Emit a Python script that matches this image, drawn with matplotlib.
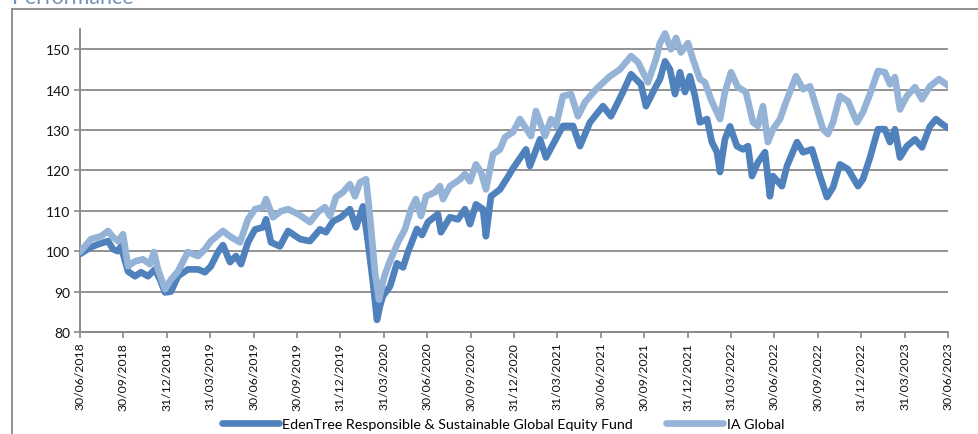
import matplotlib
matplotlib.use("Agg")
import matplotlib.pyplot as plt
from matplotlib.lines import Line2D

# ---------------- data ----------------
tick_labels = ["30/06/2018", "30/09/2018", "31/12/2018", "31/03/2019", "30/06/2019",
               "30/09/2019", "31/12/2019", "31/03/2020", "30/06/2020", "30/09/2020",
               "31/12/2020", "31/03/2021", "30/06/2021", "30/09/2021", "31/12/2021",
               "31/03/2022", "30/06/2022", "30/09/2022", "31/12/2022", "31/03/2023",
               "30/06/2023"]
tick_months = [0, 3, 6, 9, 12, 15, 18, 21, 24, 27, 30, 33, 36, 39, 42, 45, 48, 51, 54, 57, 60]

# months since 30/06/2018
edentree_months = [0.00, 0.76, 1.24, 1.94, 2.28, 2.63, 2.83, 3.32, 3.80, 4.22, 4.70, 5.18, 5.53,
                   5.88, 6.29, 6.77, 7.46, 8.16, 8.64, 9.05, 9.54, 9.88, 10.37, 10.78, 11.13,
                   11.61, 12.10, 12.65, 12.86, 13.20, 13.82, 14.38, 15.21, 15.90, 16.59, 17.00,
                   17.49, 18.04, 18.66, 19.08, 19.56, 19.91, 20.25, 20.53, 20.74, 20.94, 21.43,
                   21.91, 22.33, 22.67, 23.29, 23.64, 24.05, 24.74, 24.95, 25.57, 26.13, 26.61,
                   26.96, 27.37, 27.86, 28.06, 28.41, 29.03, 29.58, 29.93, 30.83, 31.10, 31.80,
                   32.21, 33.38, 34.08, 34.56, 35.25, 36.15, 36.70, 37.53, 38.09, 38.78, 39.12,
                   39.81, 40.09, 40.44, 40.78, 41.13, 41.47, 41.82, 42.16, 42.51, 42.85, 43.34,
                   43.68, 44.03, 44.24, 44.58, 44.93, 45.41, 45.83, 46.17, 46.45, 46.86, 47.35,
                   47.69, 47.90, 48.52, 48.87, 49.56, 49.98, 50.60, 51.15, 51.63, 52.05, 52.53,
                   53.09, 53.78, 54.12, 54.61, 55.16, 55.64, 55.99, 56.33, 56.68, 57.16, 57.72,
                   58.20, 58.75, 59.17, 59.58, 60.00]
edentree_values = [99.3, 101.0, 101.7, 102.5, 100.5, 100.0, 101.2, 95.0, 93.8, 94.8, 93.8, 95.5, 93.0,
                   89.8, 90.0, 93.8, 95.5, 95.5, 94.8, 96.3, 99.8, 101.5, 97.3, 98.8, 96.8,
                   102.2, 105.4, 105.9, 107.9, 102.2, 101.2, 105.0, 103.0, 102.5, 105.4, 104.7,
                   107.4, 108.4, 110.4, 105.9, 111.1, 102.2, 92.3, 83.0, 86.5, 88.9, 91.3,
                   97.0, 96.0, 99.8, 105.5, 104.0, 107.2, 109.2, 104.7, 108.4, 107.9, 110.4,
                   106.7, 111.6, 110.4, 103.7, 113.6, 115.3, 118.4, 120.5, 125.2, 121.1, 127.7,
                   123.2, 131.0, 131.0, 126.0, 131.9, 135.9, 133.4, 139.4, 143.8, 141.3, 135.9,
                   140.8, 142.6, 147.0, 145.0, 138.9, 144.3, 139.4, 143.3, 138.4, 131.9, 132.7,
                   127.0, 124.5, 119.6, 127.7, 130.9, 126.0, 125.2, 126.0, 118.6, 122.0, 124.5,
                   113.6, 118.6, 116.1, 121.1, 127.0, 124.5, 125.2, 118.6, 113.4, 115.8, 121.5,
                   120.3, 116.1, 117.8, 123.2, 130.2, 130.2, 127.0, 130.2, 123.2, 126.0, 127.7,
                   125.7, 130.9, 132.7, 131.5, 130.5]

ia_months = [0.00, 0.76, 1.45, 1.94, 2.28, 2.63, 2.97, 3.32, 3.80, 4.35, 4.84, 5.11, 5.39,
             5.88, 6.29, 6.77, 7.46, 8.16, 8.64, 9.05, 9.88, 10.44, 11.06, 11.61, 12.10,
             12.65, 12.86, 13.34, 13.89, 14.38, 15.07, 15.90, 16.45, 16.93, 17.28, 17.69,
             18.18, 18.66, 19.01, 19.35, 19.77, 20.04, 20.39, 20.67, 21.01, 21.36, 21.98,
             22.46, 22.88, 23.22, 23.57, 23.92, 24.54, 24.88, 25.09, 25.57, 26.27, 26.61,
             26.96, 27.37, 27.72, 28.06, 28.55, 29.03, 29.38, 29.93, 30.41, 31.17, 31.52,
             32.14, 32.56, 32.90, 33.38, 33.94, 34.42, 34.91, 35.67, 36.63, 37.32, 38.09,
             38.57, 39.26, 39.81, 40.09, 40.44, 40.85, 41.20, 41.54, 42.03, 42.37, 42.85,
             43.20, 43.61, 44.24, 44.58, 45.00, 45.48, 46.03, 46.52, 46.86, 47.21, 47.55,
             47.90, 48.39, 48.80, 49.49, 49.98, 50.46, 50.94, 51.36, 51.70, 52.05, 52.53,
             53.09, 53.71, 54.12, 54.61, 55.16, 55.64, 55.99, 56.33, 56.68, 57.16, 57.72,
             58.20, 58.75, 59.38, 60.00]
ia_values = [99.8, 103.0, 103.7, 105.0, 103.5, 102.5, 104.2, 96.3, 97.5, 98.0, 96.8, 99.8, 95.5,
             90.6, 93.0, 95.0, 99.8, 98.8, 100.5, 102.5, 105.0, 103.5, 102.2, 107.9, 110.4,
             110.9, 112.9, 108.4, 109.9, 110.4, 109.2, 107.2, 109.7, 110.9, 108.7, 113.4,
             114.6, 116.6, 113.6, 117.0, 117.8, 108.7, 94.8, 88.0, 93.5, 97.0, 102.2,
             105.4, 110.4, 112.9, 108.7, 113.6, 114.6, 116.1, 112.9, 116.1, 117.8, 119.1,
             117.3, 121.5, 119.6, 115.3, 124.0, 125.2, 128.2, 129.5, 132.7, 128.5, 134.7,
             128.5, 132.7, 131.0, 138.4, 138.9, 133.4, 136.9, 140.1, 143.3, 145.0, 148.3,
             146.8, 141.8, 147.5, 151.5, 153.9, 150.0, 152.8, 149.2, 151.5, 147.5, 142.6,
             141.8, 137.6, 132.7, 139.4, 144.3, 140.6, 139.4, 131.9, 131.0, 135.9, 127.0,
             130.2, 132.7, 136.9, 143.3, 140.1, 140.8, 135.1, 130.2, 129.0, 131.9, 138.4,
             137.1, 131.9, 134.4, 138.9, 144.6, 144.3, 141.3, 143.1, 135.1, 138.4, 140.6,
             137.6, 140.8, 142.6, 141.0]

series_names = ["EdenTree Responsible & Sustainable Global Equity Fund", "IA Global"]
y_ticks = [80, 90, 100, 110, 120, 130, 140, 150]

# ---------------- style ----------------
FONT = "Lato"
plt.rcParams["font.family"] = [FONT, "DejaVu Sans"]
DARK = "#4f81bd"
LIGHT = "#95b3d7"
GRAY = "#8a8a8a"
LW = 4.8

W, H = 979, 435
fig = plt.figure(figsize=(W / 100, H / 100), dpi=100)

# outer chart frame (cut off at right/bottom)
fx, fy = 12 / W, 1 - 10 / H
fig.add_artist(Line2D([fx, fx], [0, fy], transform=fig.transFigure, color=GRAY, lw=1.3))
fig.add_artist(Line2D([fx, 1], [fy, fy], transform=fig.transFigure, color=GRAY, lw=1.3))

# title, cut at the top edge as in the source
fig.text(12 / W, 1 - 4 / H, "Performance", color="#7394b8", fontsize=15.5,
         ha="left", va="baseline")

left, right, top, bottom = 80, 948, 30, 333
ax = fig.add_axes([left / W, 1 - bottom / H, (right - left) / W, (bottom - top) / H])

l1, = ax.plot(edentree_months, edentree_values, color=DARK, lw=LW,
              solid_joinstyle="round", solid_capstyle="round", label=series_names[0], zorder=3)
l2, = ax.plot(ia_months, ia_values, color=LIGHT, lw=LW,
              solid_joinstyle="round", solid_capstyle="round", label=series_names[1], zorder=4)

ax.set_xlim(0, 60)
ax.set_ylim(80, 155)
ax.set_yticks(y_ticks)
ax.set_yticklabels([str(v) for v in y_ticks], fontsize=10, color="#111111")
ax.set_xticks(tick_months)
ax.set_xticklabels(tick_labels, rotation=90, fontsize=8.8, color="#111111")
ax.yaxis.grid(True, color=GRAY, lw=1.3)
ax.set_axisbelow(True)
for s in ["top", "right"]:
    ax.spines[s].set_visible(False)
for s in ["left", "bottom"]:
    ax.spines[s].set_color(GRAY)
    ax.spines[s].set_linewidth(1.4)
ax.tick_params(axis="both", direction="out", length=4, width=1.2, color=GRAY, pad=3)

leg = fig.legend(handles=[l1, l2], loc="center", bbox_to_anchor=(503 / W, 1 - 425 / H),
                 ncol=2, frameon=False, fontsize=10.3, handlelength=4.0,
                 handletextpad=0.25, columnspacing=2.3)
for h in leg.get_lines():
    h.set_linewidth(LW)
    h.set_solid_capstyle("round")

fig.savefig("out.png", dpi=100)
